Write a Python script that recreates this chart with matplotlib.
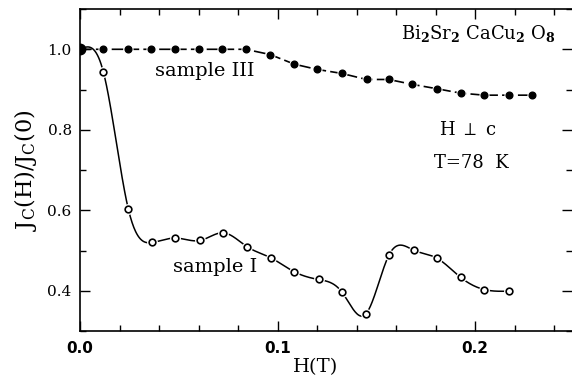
import numpy as np
import matplotlib.pyplot as plt
from matplotlib.ticker import MultipleLocator

# sample III (filled circles, dashed line)
h_s3 = [0.0, 0.0118, 0.0241, 0.0359, 0.0482, 0.0603, 0.0720, 0.0838, 0.0962,
        0.1085, 0.1200, 0.1325, 0.1450, 0.1563, 0.1680, 0.1806, 0.1927, 0.2046,
        0.2169, 0.2287]
j_s3 = [1.0, 1.0, 1.0, 1.0, 1.0, 1.0, 1.0, 1.0, 0.987,
        0.963, 0.950, 0.940, 0.925, 0.925, 0.913, 0.902, 0.891, 0.886,
        0.886, 0.886]

# sample I (open circles, smooth line)
h_s1 = [0.0, 0.0118, 0.0245, 0.0366, 0.0483, 0.0608, 0.0726, 0.0847, 0.0965,
        0.1085, 0.1207, 0.1325, 0.1446, 0.1565, 0.1688, 0.1806, 0.1927, 0.2046,
        0.2169]
j_s1 = [1.0, 0.944, 0.602, 0.520, 0.531, 0.525, 0.544, 0.509, 0.482,
        0.447, 0.428, 0.397, 0.342, 0.490, 0.501, 0.481, 0.433, 0.403,
        0.399]


def natural_spline(x, y, n=40):
    # smooth curve through the measured points
    x = np.asarray(x); y = np.asarray(y)
    k = len(x)
    hh = np.diff(x)
    A = np.zeros((k, k)); r = np.zeros(k)
    A[0, 0] = A[-1, -1] = 1
    for i in range(1, k - 1):
        A[i, i - 1] = hh[i - 1]
        A[i, i] = 2 * (hh[i - 1] + hh[i])
        A[i, i + 1] = hh[i]
        r[i] = 6 * ((y[i + 1] - y[i]) / hh[i] - (y[i] - y[i - 1]) / hh[i - 1])
    m = np.linalg.solve(A, r)
    xs, ys = [], []
    for i in range(k - 1):
        t = np.linspace(x[i], x[i + 1], n, endpoint=False)
        a = (x[i + 1] - t) / hh[i]
        b = (t - x[i]) / hh[i]
        s = a * y[i] + b * y[i + 1] + ((a**3 - a) * m[i] + (b**3 - b) * m[i + 1]) * hh[i]**2 / 6
        xs.extend(t); ys.extend(s)
    xs.append(x[-1]); ys.append(y[-1])
    return np.array(xs), np.array(ys)


plt.rcParams['font.family'] = 'DejaVu Serif'
plt.rcParams['mathtext.fontset'] = 'dejavuserif'

fig = plt.figure(figsize=(5.72, 3.77), dpi=100)
ax = fig.add_axes([0.1399, 0.122, 0.8601, 0.854])

# sample I
sx, sy = natural_spline(h_s1, j_s1)
ax.plot(sx, sy, color='black', lw=1.1, zorder=2)
ax.plot(h_s1, j_s1, 'o', ms=6.8, color='white', mec='white', zorder=3)
ax.plot(h_s1, j_s1, 'o', ms=4.8, mfc='white', mec='black', mew=1.2, zorder=4)

# sample III
ax.plot(h_s3, j_s3, color='black', lw=1.2, dashes=(7, 2.5), zorder=2)
ax.plot(h_s3, j_s3, 'o', ms=6.3, color='white', mec='white', zorder=5)
ax.plot(h_s3, j_s3, 'o', ms=4.8, color='black', zorder=6)
ax.plot([h_s3[0]], [j_s3[0]], 'o', ms=7.5, color='black', zorder=7)

ax.set_xlim(0, 0.249)
ax.set_ylim(0.3, 1.1)
ax.spines['right'].set_visible(False)
for s in ax.spines.values():
    s.set_linewidth(1.2)

ax.xaxis.set_major_locator(MultipleLocator(0.1))
ax.xaxis.set_minor_locator(MultipleLocator(0.02))
ax.yaxis.set_major_locator(MultipleLocator(0.2))
ax.yaxis.set_minor_locator(MultipleLocator(0.1))
ax.tick_params(which='both', direction='in', top=True, right=True, width=1)
ax.tick_params(which='major', length=7)
ax.tick_params(which='minor', length=4)
ax.tick_params(axis='y', labelsize=11, pad=6)
ax.tick_params(axis='x', pad=7)
ax.set_xticks([0.0, 0.1, 0.2])
ax.set_xticklabels(['0.0', '0.1', '0.2'], family='DejaVu Sans', weight='bold', fontsize=11)
ax.set_yticks([0.4, 0.6, 0.8, 1.0])
ax.set_yticklabels(['0.4', '0.6', '0.8', '1.0'])

ax.set_xlabel('H(T)', fontsize=14, labelpad=0)
ax.xaxis.set_label_coords(0.478, -0.085)
ax.set_ylabel(r'J$_\mathrm{C}$(H)/J$_\mathrm{C}$(0)', fontsize=16, labelpad=6)

ax.text(0.0633, 0.945, 'sample III', fontsize=14, ha='center', va='center')
ax.text(0.0684, 0.458, 'sample I', fontsize=14, ha='center', va='center')
ax.text(0.2405, 1.040, r'Bi$_\mathbf{2}$Sr$_\mathbf{2}$ CaCu$_\mathbf{2}$ O$_\mathbf{8}$',
        fontsize=13, ha='right', va='center')
ax.text(0.1965, 0.799, r'H $\perp$ c', fontsize=13, ha='center', va='center')
ax.text(0.198, 0.717, 'T=78  K', fontsize=13, ha='center', va='center')

fig.savefig('out.png', dpi=100)
